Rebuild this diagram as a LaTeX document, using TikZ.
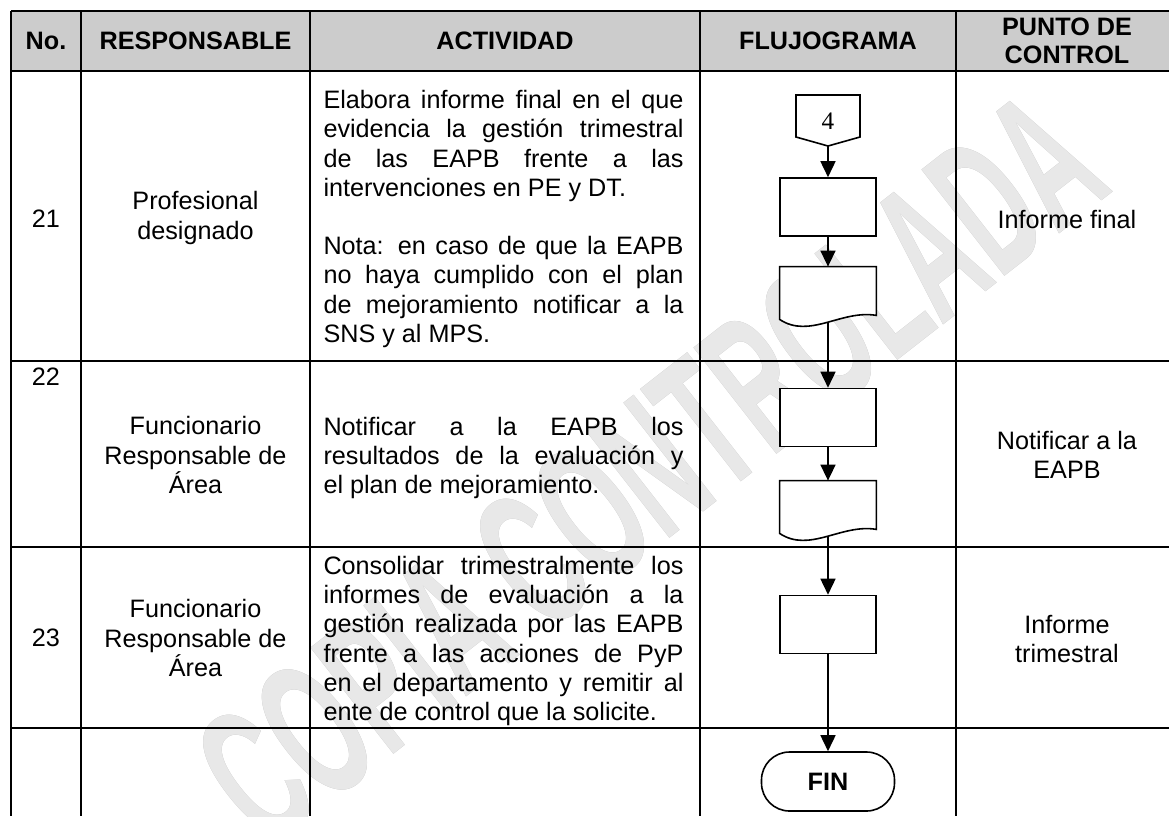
\documentclass[tikz,border=0pt]{standalone}
\usepackage{fontspec}
\usepackage[outline]{contour}
\setmainfont{Liberation Sans}
\newfontfamily\cuatrofont{Liberation Serif}
\usetikzlibrary{arrows.meta,positioning}
\contourlength{0.9pt}
\tikzset{
  celda/.style={align=center,font=\fontsize{12.6}{14.6}\selectfont},
  encabezado/.style={align=center,font=\bfseries\fontsize{12.6}{14}\selectfont},
  actividad/.style={text width=180pt,align=justify,inner sep=0pt,font=\fontsize{12.6}{14.6}\selectfont},
  proceso/.style={draw,fill=white,line width=0.8pt,minimum width=48pt,minimum height=29pt,inner sep=0pt},
  documento/.style={minimum width=48pt,minimum height=26pt,inner sep=0pt},
  terminal/.style={draw,fill=white,line width=0.8pt,rounded corners=14pt,minimum width=66.5pt,minimum height=29.5pt,font=\bfseries\fontsize{12.6}{14}\selectfont},
  flecha/.style={-{Triangle[length=8pt,width=7.5pt]},line width=0.8pt},
  rejilla/.style={line width=1.2pt},
  borde/.style={line width=0.8pt,fill=white},
}
\begin{document}
\begin{tikzpicture}[x=0.5pt,y=-0.5pt]
		\useasboundingbox (0,0) rectangle (1169,816);
		% sello de agua
		\node (sello) at (650,468) [rotate=38, inner sep=0pt, font=\bfseries\fontsize{98}{98}\selectfont] {\scalebox{0.52}[1]{\contour{black!28}{\textcolor{black!9}{COPIA CONTROLADA}}}};
		
		\fill [gray!40] (11,11) rectangle (1169,71);
		\draw [rejilla] (11,11) -- (1169,11);
		\draw [rejilla] (11,71) -- (1169,71);
		\draw [rejilla] (11,361) -- (1169,361);
		\draw [rejilla] (11,547) -- (1169,547);
		\draw [rejilla] (11,728) -- (1169,728);
		\draw [rejilla] (11,11) -- (11,816);
		\draw [rejilla] (81,11) -- (81,816);
		\draw [rejilla] (310,11) -- (310,816);
		\draw [rejilla] (700,11) -- (700,816);
		\draw [rejilla] (956,11) -- (956,816);
		
		\node (hno) at (46,41) [encabezado] {No.};
		\node (hresp) at (195.5,41) [encabezado] {RESPONSABLE};
		\node (hact) at (505,41) [encabezado] {ACTIVIDAD};
		\node (hflujo) at (828,41) [encabezado] {FLUJOGRAMA};
		\node (hpunto) at (1067,41) [encabezado] {PUNTO DE\\CONTROL};
		
		\node (n21) at (46,219) [celda] {21};
		\node (n22) at (46,361) [celda, anchor=north] {22};
		\node (n23) at (46,638) [celda] {23};
		
		\node (r21) at (195.5,218) [celda] {Profesional\\designado};
		\node (r22) at (195.5,455) [celda] {Funcionario\\Responsable de\\Área};
		\node (r23) at (195.5,638) [celda] {Funcionario\\Responsable de\\Área};
		
		\node (a21) at (503.5,219) [actividad] {Elabora informe final en el que\linebreak evidencia la gestión trimestral\linebreak de las EAPB frente a las\linebreak intervenciones en PE y DT.\par\vspace{14.6pt}Nota: en caso de que la EAPB\linebreak no haya cumplido con el plan\linebreak de mejoramiento notificar a la\linebreak SNS y al MPS.};
		\node (a22) at (503.5,458) [actividad] {Notificar a la EAPB los\linebreak resultados de la evaluación y\linebreak el plan de mejoramiento.};
		\node (a23) at (503.5,641) [actividad] {Consolidar trimestralmente los\linebreak informes de evaluación a la\linebreak gestión realizada por las EAPB\linebreak frente a las acciones de PyP\linebreak en el departamento y remitir al\linebreak ente de control que la solicite.};
		
		\node (k21) at (1067,219) [celda] {Informe final};
		\node (k22) at (1067,455) [celda] {Notificar a la\\EAPB};
		\node (k23) at (1067,639) [celda] {Informe\\trimestral};
		
		% flujograma
		\coordinate (c4s) at (828,146);
		\draw [borde] (796,95) -- (860,95) -- (860,137) -- (c4s) -- (796,137) -- cycle;
		\node (c4) at (828,121) [font=\cuatrofont\fontsize{12.6}{14}\selectfont] {4};
		\node (p1) at (828,207) [proceso] {};
		\node (d1) at (828,293) [documento] {};
		\draw [borde] (d1.north west) -- (d1.north east) -- ([yshift=2pt]d1.south east) .. controls +(-35,-6) and +(30,20) .. (d1.south west) -- cycle;
		\coordinate (d1b) at (828,322);
		\node (p2) at (828,417.5) [proceso] {};
		\node (d2) at (828,507) [documento] {};
		\draw [borde] (d2.north west) -- (d2.north east) -- ([yshift=2pt]d2.south east) .. controls +(-35,-6) and +(30,20) .. (d2.south west) -- cycle;
		\coordinate (d2b) at (828,536);
		\node (p3) at (828,624.5) [proceso] {};
		\node (fin) at (828,781.5) [terminal] {FIN};
		
		\draw [flecha] (c4s) -- (p1);
		\draw [flecha] (p1) -- (d1);
		\draw [flecha] (d1b) -- (p2);
		\draw [flecha] (p2) -- (d2);
		\draw [flecha] (d2b) -- (p3);
		\draw [flecha] (p3) -- (fin);
\end{tikzpicture}
\end{document}
